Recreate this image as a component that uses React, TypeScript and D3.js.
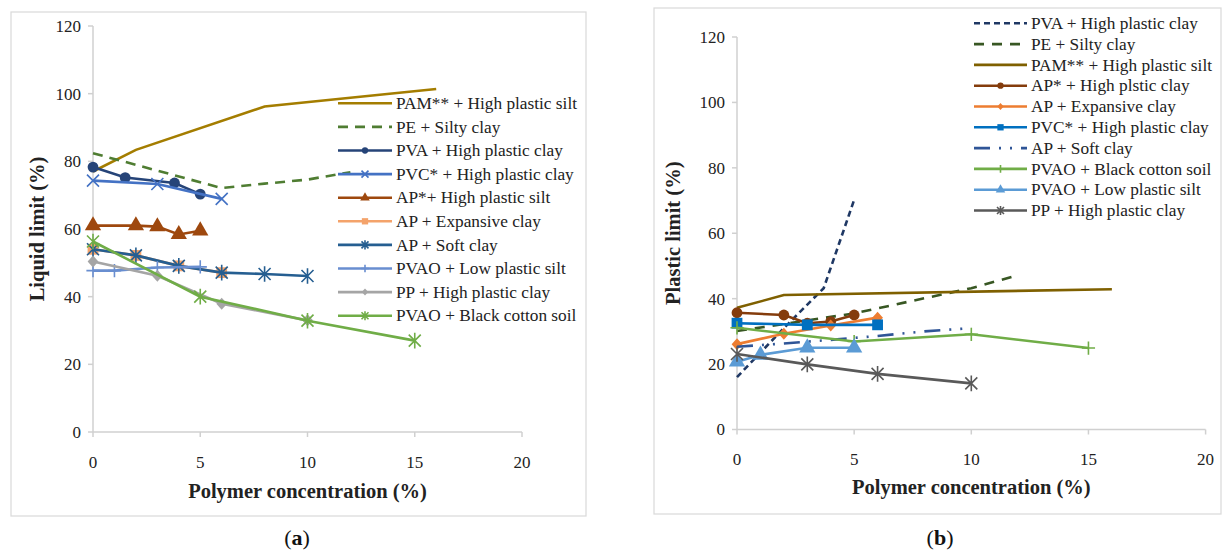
import React from 'react';
import * as d3 from 'd3';

type Pt = [number, number];

// ---- (a) Liquid limit vs polymer concentration ----
const llPamHighSilt: Pt[] = [[0, 77], [2, 83.4], [8, 96.2], [16, 101.4]];
const llPeSiltyClay: Pt[] = [[0, 82.4], [6, 72.1], [8, 73.4], [10, 74.6], [12, 76.8]];
const llPvaHighClay: Pt[] = [[0, 78.3], [1.5, 75.2], [3.8, 73.6], [5, 70.3]];
const llPvcHighClay: Pt[] = [[0, 74.3], [3, 73.3], [6, 68.9]];
const llApHighSilt: Pt[] = [[0, 61], [2, 61], [3, 60.7], [4, 58.4], [5, 59.5]];
const llApExpansive: Pt[] = [[0, 54], [2, 52.2], [4, 49.1], [6, 47.1]];
const llApSoftClay: Pt[] = [[0, 54], [2, 52.2], [4, 49.1], [6, 47.1], [8, 46.7], [10, 46.1]];
const llPvaoLowSilt: Pt[] = [[0, 47.7], [1, 47.7], [3, 48.6], [5, 48.8]];
const llPpHighClay: Pt[] = [[0, 50.4], [3, 46.2], [6, 37.9], [10, 33]];
const llPvaoCotton: Pt[] = [[0, 56.3], [5, 40], [10, 32.9], [15, 27]];

// ---- (b) Plastic limit vs polymer concentration ----
const plPvaHighClay: Pt[] = [[0, 16], [2, 31], [3.7, 43.2], [5, 70.2]];
const plPeSiltyClay: Pt[] = [[0, 30.1], [5, 35.5], [10, 43.2], [12, 47.2]];
const plPamHighSilt: Pt[] = [[0, 37.2], [2, 41.1], [16, 42.9]];
const plApHighClay: Pt[] = [[0, 35.7], [2, 35], [3, 32.5], [4, 33], [5, 35]];
const plApExpansive: Pt[] = [[0, 26.1], [2, 29.3], [4, 31.8], [6, 34.2]];
const plPvcHighClay: Pt[] = [[0, 32.5], [3, 32], [6, 32]];
const plApSoftClay: Pt[] = [[0, 25.3], [2, 26.3], [4, 27.4], [6, 28.6], [8, 30], [10, 31]];
const plPvaoCotton: Pt[] = [[0, 31.1], [5, 26.9], [10, 29.1], [15, 24.9]];
const plPvaoLowSilt: Pt[] = [[0, 20.7], [1, 22.8], [3, 25], [5, 25]];
const plPpHighClay: Pt[] = [[0, 23.1], [3, 19.9], [6, 17], [10, 14.1]];

const xTicks = [0, 5, 10, 15, 20];
const yTicks = [0, 20, 40, 60, 80, 100, 120];

type Marker = 'none' | 'circle' | 'x' | 'triangle' | 'square' | 'star' | 'plus' | 'diamond';

interface Series {
  name: string;
  data: Pt[];
  color: string;
  dash?: string;
  marker: Marker;
}

const liquidSeries: Series[] = [
  { name: 'PAM** + High plastic silt', data: llPamHighSilt, color: '#a47d00', marker: 'none' },
  { name: 'PE + Silty clay', data: llPeSiltyClay, color: '#4f7d32', dash: '10,7', marker: 'none' },
  { name: 'PVA + High plastic clay', data: llPvaHighClay, color: '#264478', marker: 'circle' },
  { name: 'PVC* + High plastic clay', data: llPvcHighClay, color: '#4472c4', marker: 'x' },
  { name: 'AP*+ High plastic silt', data: llApHighSilt, color: '#9e480e', marker: 'triangle' },
  { name: 'AP + Expansive clay', data: llApExpansive, color: '#f4a36b', marker: 'square' },
  { name: 'AP + Soft clay', data: llApSoftClay, color: '#255e91', marker: 'star' },
  { name: 'PVAO + Low plastic silt', data: llPvaoLowSilt, color: '#698ed0', marker: 'plus' },
  { name: 'PP + High plastic clay', data: llPpHighClay, color: '#a5a5a5', marker: 'diamond' },
  { name: 'PVAO + Black cotton soil', data: llPvaoCotton, color: '#70ad47', marker: 'star' },
];

const plasticSeries: Series[] = [
  { name: 'PVA + High plastic clay', data: plPvaHighClay, color: '#1f3864', dash: '6,4', marker: 'none' },
  { name: 'PE + Silty clay', data: plPeSiltyClay, color: '#385723', dash: '10,8', marker: 'none' },
  { name: 'PAM** + High plastic silt', data: plPamHighSilt, color: '#7f6000', marker: 'none' },
  { name: 'AP* + High plstic clay', data: plApHighClay, color: '#843c0c', marker: 'circle' },
  { name: 'AP + Expansive clay', data: plApExpansive, color: '#ed7d31', marker: 'diamond' },
  { name: 'PVC* + High plastic clay', data: plPvcHighClay, color: '#0070c0', marker: 'square' },
  { name: 'AP + Soft clay', data: plApSoftClay, color: '#2f5597', dash: '16,9,2,9,2,9', marker: 'none' },
  { name: 'PVAO + Black cotton soil', data: plPvaoCotton, color: '#70ad47', marker: 'plus' },
  { name: 'PVAO + Low plastic silt', data: plPvaoLowSilt, color: '#5b9bd5', marker: 'triangle' },
  { name: 'PP + High plastic clay', data: plPpHighClay, color: '#595959', marker: 'star' },
];

const FONT = '"Liberation Serif", "Times New Roman", serif';

function MarkerGlyph({ kind, x, y, color, s }: { kind: Marker; x: number; y: number; color: string; s: number }) {
  const t = `translate(${x},${y})`;
  switch (kind) {
    case 'circle':
      return <circle cx={x} cy={y} r={s * 0.9} fill={color} />;
    case 'triangle':
      return <path transform={t} d={d3.symbol(d3.symbolTriangle, s * s * 3.2)()!} fill={color} />;
    case 'square':
      return <rect x={x - s * 0.9} y={y - s * 0.9} width={s * 1.8} height={s * 1.8} fill={color} />;
    case 'diamond':
      return <path transform={t} d={`M0,${-s}L${s * 0.9},0L0,${s}L${-s * 0.9},0Z`} fill={color} />;
    case 'x':
      return (
        <path transform={t} d={`M${-s},${-s}L${s},${s}M${-s},${s}L${s},${-s}`} stroke={color} strokeWidth={1.6} fill="none" />
      );
    case 'plus':
      return (
        <path transform={t} d={`M${-s * 1.1},0L${s * 1.1},0M0,${-s * 1.1}L0,${s * 1.1}`} stroke={color} strokeWidth={1.6} fill="none" />
      );
    case 'star':
      return (
        <path
          transform={t}
          d={`M${-s},${-s}L${s},${s}M${-s},${s}L${s},${-s}M0,${-s * 1.3}L0,${s * 1.3}`}
          stroke={color}
          strokeWidth={1.6}
          fill="none"
        />
      );
    default:
      return null;
  }
}

interface PanelProps {
  frame: { x: number; y: number; w: number; h: number };
  plot: { x0: number; x1: number; y0: number; y1: number };
  series: Series[];
  yTitle: string;
  yTitleX: number;
  xTitleY: number;
  xTickY: number;
  legend: { lineX0: number; lineX1: number; textX: number; y0: number; dy: number };
}

function Panel({ frame, plot, series, yTitle, yTitleX, xTitleY, xTickY, legend }: PanelProps) {
  const x = d3.scaleLinear().domain([0, 20]).range([plot.x0, plot.x1]);
  const y = d3.scaleLinear().domain([0, 120]).range([plot.y0, plot.y1]);
  const line = d3
    .line<Pt>()
    .x((d) => x(d[0]))
    .y((d) => y(d[1]));
  const axisColor = '#d0d0d0';
  return (
    <g>
      <rect x={frame.x} y={frame.y} width={frame.w} height={frame.h} fill="#fff" stroke="#d9d9d9" strokeWidth={1.2} />
      {/* axes */}
      <line x1={x(0)} x2={x(0)} y1={y(0)} y2={y(120)} stroke={axisColor} strokeWidth={1.5} />
      <line x1={x(0)} x2={x(20)} y1={y(0)} y2={y(0)} stroke={axisColor} strokeWidth={1.5} />
      {yTicks.map((t) => (
        <g key={'y' + t}>
          <line x1={x(0) - 5} x2={x(0)} y1={y(t)} y2={y(t)} stroke={axisColor} strokeWidth={1.5} />
          <text x={x(0) - 12} y={y(t)} dy="0.35em" textAnchor="end" fontSize={17} fontFamily={FONT} fill="#222">
            {t}
          </text>
        </g>
      ))}
      {xTicks.map((t) => (
        <g key={'x' + t}>
          <line x1={x(t)} x2={x(t)} y1={y(0)} y2={y(0) + 5} stroke={axisColor} strokeWidth={1.5} />
          <text x={x(t)} y={xTickY} dy="0.35em" textAnchor="middle" fontSize={17} fontFamily={FONT} fill="#222">
            {t}
          </text>
        </g>
      ))}
      <text
        transform={`translate(${yTitleX},${(y(0) + y(120)) / 2}) rotate(-90)`}
        textAnchor="middle"
        fontSize={20.5}
        fontWeight="bold"
        fontFamily={FONT}
        fill="#222"
      >
        {yTitle}
      </text>
      <text
        x={(x(0) + x(20)) / 2}
        y={xTitleY}
        dy="0.35em"
        textAnchor="middle"
        fontSize={20.5}
        fontWeight="bold"
        fontFamily={FONT}
        fill="#222"
      >
        Polymer concentration (%)
      </text>
      {/* series */}
      {series.map((s) => (
        <g key={s.name}>
          <path d={line(s.data)!} fill="none" stroke={s.color} strokeWidth={2.6} strokeDasharray={s.dash} />
          {s.data.map((d, i) => (
            <MarkerGlyph key={i} kind={s.marker} x={x(d[0])} y={y(d[1])} color={s.color} s={6} />
          ))}
        </g>
      ))}
      {/* legend */}
      {series.map((s, i) => {
        const ly = legend.y0 + i * legend.dy;
        const mx = (legend.lineX0 + legend.lineX1) / 2;
        return (
          <g key={'lg' + s.name}>
            <line x1={legend.lineX0} x2={legend.lineX1} y1={ly} y2={ly} stroke={s.color} strokeWidth={2.6} strokeDasharray={s.dash} />
            <MarkerGlyph kind={s.marker} x={mx} y={ly} color={s.color} s={3.5} />
            <text x={legend.textX} y={ly} dy="0.33em" fontSize={17.3} fontFamily={FONT} fill="#222">
              {s.name}
            </text>
          </g>
        );
      })}
    </g>
  );
}

export default function App() {
  return (
    <svg
      width={1225}
      height={551}
      viewBox="0 0 1225 551"
      style={{ position: 'absolute', left: 0, top: 0, background: '#fff' }}
    >
      <rect x={0} y={0} width={1225} height={551} fill="#fff" />
      <Panel
        frame={{ x: 11, y: 12, w: 575, h: 504 }}
        plot={{ x0: 93, x1: 522, y0: 432, y1: 26 }}
        series={liquidSeries}
        yTitle="Liquid limit (%)"
        yTitleX={44}
        xTitleY={491}
        xTickY={462}
        legend={{ lineX0: 338, lineX1: 392, textX: 396, y0: 103.3, dy: 23.6 }}
      />
      <Panel
        frame={{ x: 654, y: 8, w: 567, h: 506 }}
        plot={{ x0: 737, x1: 1205.6, y0: 429.5, y1: 37 }}
        series={plasticSeries}
        yTitle="Plastic limit (%)"
        yTitleX={680}
        xTitleY={487}
        xTickY={459}
        legend={{ lineX0: 974, lineX1: 1027, textX: 1031, y0: 23.3, dy: 20.8 }}
      />
      <text x={297} y={537} dy="0.35em" textAnchor="middle" fontSize={22} fontFamily={FONT} fill="#111">
        (<tspan fontWeight="bold">a</tspan>)
      </text>
      <text x={940} y={537} dy="0.35em" textAnchor="middle" fontSize={22} fontFamily={FONT} fill="#111">
        (<tspan fontWeight="bold">b</tspan>)
      </text>
    </svg>
  );
}
